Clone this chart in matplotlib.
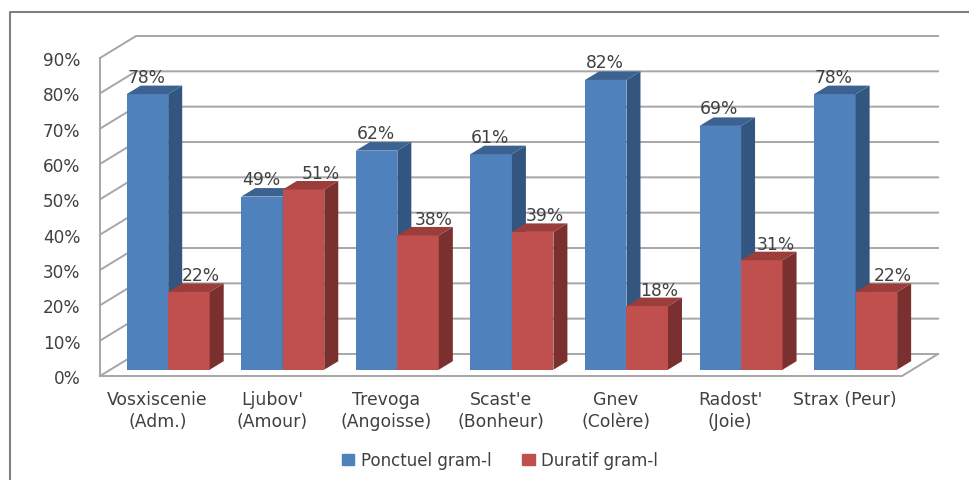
import matplotlib
matplotlib.use("Agg")
import matplotlib.pyplot as plt
from matplotlib.patches import Patch, Polygon

# Valeurs
categories = ["Vosxiscenie\n(Adm.)", "Ljubov'\n(Amour)", "Trevoga\n(Angoisse)", "Scast'e\n(Bonheur)",
              "Gnev\n(Colère)", "Radost'\n(Joie)", "Strax (Peur)"]
ponctuel = [78, 49, 62, 61, 82, 69, 78]
duratif = [22, 51, 38, 39, 18, 31, 22]
yticks = [0, 10, 20, 30, 40, 50, 60, 70, 80, 90]

W, H = 969, 481
# taille d'une unite en pixels
PX_X = 802 / 7
PX_Y = 318 / 90
# profondeur du plancher
DX = 36 / PX_X
DY = 22 / PX_Y
# bar geometry
BAR_W = 41.5 / PX_X
BAR_X0 = 26.7 / PX_X
BAR_LIFT = 6.3 / PX_Y
SIDE_X = 14 / PX_X
SIDE_Y = 8.5 / PX_Y
# decalage horizontal des etiquettes rouges (px)
red_shift = [12, 17, 16, 12, 12, 14, 16]

TXT = "#404040"
GRID = "#A6A6A6"

fig = plt.figure(figsize=(W / 100, H / 100), dpi=100)
ax = fig.add_axes([100 / W, 1 - 377 / H, 802 / W, 318 / H])
ax.set_xlim(0, 7)
ax.set_ylim(0, 90)
for s in ax.spines.values():
    s.set_visible(False)
ax.patch.set_visible(False)

# cadre exterieur (ouvert a droite et en bas)
fig.add_artist(plt.Line2D([10 / W, 10 / W, 1], [0, 1 - 13 / H, 1 - 13 / H], color="#808080", lw=1.5))

# murs et grille
for v in yticks:
    ax.plot([0, DX, 7 + DX], [v, v + DY, v + DY], color=GRID, lw=1.4, clip_on=False, zorder=1)
ax.plot([0, 0], [0, 90], color=GRID, lw=1.4, clip_on=False, zorder=1)
ax.plot([0, 7, 7 + DX], [0, 0, DY], color=GRID, lw=1.4, clip_on=False, zorder=1)


def bar3d(x, v, front, side, top, z):
    ax.bar(x, v, BAR_W, bottom=BAR_LIFT, align="edge", color=front, edgecolor="none", clip_on=False, zorder=z)
    y0 = BAR_LIFT
    y1 = BAR_LIFT + v
    x1 = x + BAR_W
    ax.add_patch(Polygon([(x1, y0), (x1 + SIDE_X, y0 + SIDE_Y), (x1 + SIDE_X, y1 + SIDE_Y), (x1, y1)],
                         closed=True, color=side, lw=0, clip_on=False, zorder=z))
    ax.add_patch(Polygon([(x, y1), (x + SIDE_X, y1 + SIDE_Y), (x1 + SIDE_X, y1 + SIDE_Y), (x1, y1)],
                         closed=True, color=top, lw=0, clip_on=False, zorder=z))


for i in range(len(categories)):
    xb = i + BAR_X0
    bar3d(xb, ponctuel[i], "#4F81BD", "#335680", "#3B6290", 2 + i * 0.1)
    bar3d(xb + BAR_W, duratif[i], "#C0504D", "#7A302E", "#9B3D3A", 2.05 + i * 0.1)
    ax.text(xb + BAR_W / 2 - 1 / PX_X, ponctuel[i] + BAR_LIFT + 17.5 / PX_Y, f"{ponctuel[i]}%", ha="center",
            va="center", fontsize=12.3, color=TXT, zorder=5, clip_on=False)
    ax.text(xb + 1.5 * BAR_W + red_shift[i] / PX_X, duratif[i] + BAR_LIFT + 16.5 / PX_Y, f"{duratif[i]}%",
            ha="center", va="center", fontsize=12.3, color=TXT, zorder=5, clip_on=False)

ax.set_yticks(yticks)
ax.set_yticklabels([f"{v}%" for v in yticks], fontsize=12.2, color=TXT)
ax.set_xticks([i + 0.5 for i in range(len(categories))])
ax.set_xticklabels(categories, fontsize=12.4, color=TXT, linespacing=1.32)
ax.tick_params(axis="y", length=0, pad=14)
ax.tick_params(axis="x", length=0, pad=10)

handles = [Patch(color="#4F81BD", label="Ponctuel gram-l"), Patch(color="#C0504D", label="Duratif gram-l")]
fig.legend(handles=handles, loc="center", bbox_to_anchor=(500 / W, 1 - 461 / H), ncol=2, frameon=False,
           fontsize=12, labelcolor=TXT, handlelength=0.75, handleheight=0.65, handletextpad=0.4, columnspacing=1.85)

fig.savefig("out.png", dpi=100)
